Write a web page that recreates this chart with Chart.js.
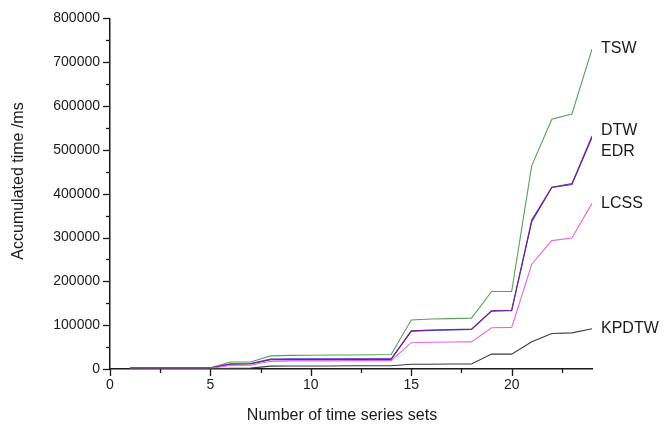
<!DOCTYPE html>
<html><head><meta charset="utf-8">
<script src="https://cdn.jsdelivr.net/npm/chart.js@4/dist/chart.umd.min.js"></script>
<style>html,body{margin:0;padding:0;background:#fff;}</style>
</head><body>
<canvas id="c" width="664" height="427" style="width:664px;height:427px;display:block"></canvas>
<script>
// ---- data ----
const xValues = [1,2,3,4,5,6,7,8,9,10,11,12,13,14,15,16,17,18,19,20,21,22,23,24];
const seriesNames = ['TSW','DTW','EDR','LCSS','KPDTW'];
const tswValues   = [3000,3000,3000,3000,3000,16000,16000,30000,31000,31500,32000,32000,32500,33000,112000,114000,115000,116000,177000,177000,464000,570000,582000,730000];
const dtwValues   = [2500,2500,2500,2500,2500,12000,12500,22500,23000,23000,23000,23500,23500,23500,86000,88000,89000,90000,132000,134000,340000,415000,423000,532000];
const edrValues   = [2000,2000,2000,2000,2000,11000,11500,21000,21500,21500,21500,22000,22000,22000,87000,89000,90000,91000,133000,133000,336000,414000,421000,528000];
const lcssValues  = [1500,1500,1500,1500,1500,8000,8500,17500,18500,18500,18500,19000,19000,19000,60000,61000,61500,62000,94000,95000,239000,293000,299000,378000];
const kpdtwValues = [500,500,500,500,500,1500,2000,6500,7000,7000,7000,7500,7500,7500,11000,11000,11500,11500,34000,34000,62000,81000,82500,92000];
const xTickLabels = ['0','5','10','15','20'];
const yTickLabels = ['0','100000','200000','300000','400000','500000','600000','700000','800000'];
const xTitle = 'Number of time series sets';
const yTitle = 'Accumulated time /ms';

// ---- styles ----
const seriesColors = {TSW:'#5c9e5c', DTW:'#3c3cd2', EDR:'#7a1f7a', LCSS:'#e466e4', KPDTW:'#3a3a3a'};
const labelOffsets = {TSW:0, DTW:-5, EDR:14, LCSS:0, KPDTW:0};
const FONT = '"Liberation Sans", Arial, sans-serif';
const INK = '#1a1a1a';

const allValues = {TSW:tswValues, DTW:dtwValues, EDR:edrValues, LCSS:lcssValues, KPDTW:kpdtwValues};
const datasets = seriesNames.map(n => ({
  label: n,
  data: xValues.map((x,i) => ({x, y: allValues[n][i]})),
  borderColor: seriesColors[n],
  backgroundColor: seriesColors[n],
  borderWidth: 1.1,
  pointRadius: 0,
  tension: 0,
  fill: false
})).reverse();

const decorPlugin = {
  id: 'decor',
  afterDraw(chart) {
    const ctx = chart.ctx, ca = chart.chartArea;
    const xs = chart.scales.x, ys = chart.scales.y;
    ctx.save();
    ctx.strokeStyle = INK; ctx.lineWidth = 1.3;
    xs.ticks.forEach(t => {
      const major = xTickLabels.includes(String(t.value));
      const px = Math.round(xs.getPixelForValue(t.value)) + 0.5;
      ctx.beginPath(); ctx.moveTo(px, ca.bottom); ctx.lineTo(px, ca.bottom + (major ? 7 : 4)); ctx.stroke();
    });
    ys.ticks.forEach(t => {
      const major = yTickLabels.includes(String(t.value));
      const py = Math.round(ys.getPixelForValue(t.value)) + 0.5;
      ctx.beginPath(); ctx.moveTo(ca.left, py); ctx.lineTo(ca.left - (major ? 7 : 4), py); ctx.stroke();
    });
    // series labels at line ends
    ctx.fillStyle = INK;
    ctx.font = '16px ' + FONT;
    ctx.textAlign = 'left'; ctx.textBaseline = 'middle';
    chart.data.datasets.forEach((ds, i) => {
      const meta = chart.getDatasetMeta(i);
      const last = meta.data[meta.data.length - 1];
      ctx.fillText(ds.label, last.x + 9, last.y + labelOffsets[ds.label]);
    });
    // axis titles
    ctx.textAlign = 'center';
    ctx.fillText(xTitle, 342, 416);
    ctx.translate(19, 181); ctx.rotate(-Math.PI/2);
    ctx.fillText(yTitle, 0, 0);
    ctx.restore();
  }
};

new Chart(document.getElementById('c'), {
  type: 'line',
  data: { datasets },
  options: {
    responsive: false,
    devicePixelRatio: 1,
    animation: false,
    layout: { padding: { top: 13, right: 72, left: 0, bottom: 0 } },
    plugins: { legend: { display: false }, tooltip: { enabled: false } },
    scales: {
      x: {
        type: 'linear', min: 0, max: 24,
        ticks: {
          stepSize: 2.5, includeBounds: false, autoSkip: false, maxRotation: 0, padding: 8,
          color: INK, font: { family: FONT, size: 14 },
          callback: v => xTickLabels.includes(String(v)) ? String(v) : ''
        },
        grid: { drawOnChartArea: false, drawTicks: false },
        border: { display: true, color: INK, width: 1.5 },
        afterFit(s) { s.height = 58; }
      },
      y: {
        type: 'linear', min: 0, max: 800000,
        ticks: {
          stepSize: 50000, autoSkip: false, padding: 10,
          color: INK, font: { family: FONT, size: 14 },
          callback: v => yTickLabels.includes(String(v)) ? String(v) : ''
        },
        grid: { drawOnChartArea: false, drawTicks: false },
        border: { display: true, color: INK, width: 1.5 },
        afterFit(s) { s.width = 110; }
      }
    }
  },
  plugins: [decorPlugin]
});
</script>
</body></html>
